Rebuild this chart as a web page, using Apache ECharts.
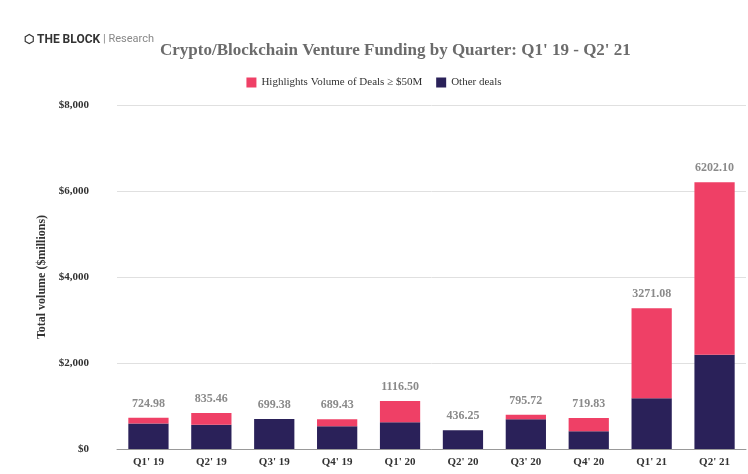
<!DOCTYPE html>
<html><head><meta charset="utf-8">
<script src="https://cdn.jsdelivr.net/npm/echarts@6/dist/echarts.min.js"></script>
<style>html,body{margin:0;padding:0;background:#fff}#c{width:748px;height:474px}</style>
</head><body><div id="c"></div>
<script>
const categories = ["Q1' 19","Q2' 19","Q3' 19","Q4' 19","Q1' 20","Q2' 20","Q3' 20","Q4' 20","Q1' 21","Q2' 21"];
const totals = [724.98,835.46,699.38,689.43,1116.50,436.25,795.72,719.83,3271.08,6202.10];
const otherDeals = [592,565,699.38,527,620,436.25,690,410,1178,2190];
const bigDeals = totals.map((t,i)=>+(t-otherDeals[i]).toFixed(2));
const yTicks = [0,2000,4000,6000,8000];
const serif = "'Liberation Serif','DejaVu Serif',serif";
const chart = echarts.init(document.getElementById('c'));
chart.setOption({
  animation:false,
  graphic:[
    {type:'text',left:24,top:34,style:{text:'⬡ THE BLOCK',font:'bold 12px Roboto',fill:'#333'}},
    {type:'text',left:103,top:34,style:{text:'| Research',font:'11px Roboto',fill:'#888'}}
  ],
  title:{text:'Crypto/Blockchain Venture Funding by Quarter: Q1\' 19 - Q2\' 21',left:155,top:37,
    textStyle:{fontFamily:serif,fontWeight:'bold',fontSize:17,color:'#6b6b6b'}},
  legend:{top:72,left:'center',itemWidth:10,itemHeight:10,icon:'rect',itemGap:14,
    data:['Highlights Volume of Deals ≥ $50M','Other deals'],
    textStyle:{fontFamily:serif,fontSize:11,color:'#333'}},
  grid:{left:117,right:2,top:105,bottom:25},
  xAxis:{type:'category',data:categories,axisTick:{show:false},
    axisLine:{lineStyle:{color:'#999'}},
    axisLabel:{fontFamily:serif,fontWeight:'bold',fontSize:11,color:'#333',margin:8}},
  yAxis:{type:'value',min:0,max:8000,interval:2000,
    name:'Total volume ($millions)',nameLocation:'middle',nameGap:68,
    nameTextStyle:{fontFamily:serif,fontWeight:'bold',fontSize:12,color:'#333'},
    axisLabel:{fontFamily:serif,fontWeight:'bold',fontSize:11,color:'#333',margin:28,
      formatter:v=>yTicks.includes(v)?'$'+v.toLocaleString('en-US'):''},
    splitLine:{lineStyle:{color:'#e0e0e0'}}},
  series:[
    {name:'Other deals',type:'bar',stack:'a',data:otherDeals,barWidth:'64%',itemStyle:{color:'#2a2159'}},
    {name:'Highlights Volume of Deals ≥ $50M',type:'bar',stack:'a',data:bigDeals,itemStyle:{color:'#ef4066'},
      label:{show:true,position:'top',distance:8,fontFamily:serif,fontWeight:'bold',fontSize:12,color:'#8a8a8a',
        formatter:p=>totals[p.dataIndex].toFixed(2)}}
  ]
});
</script></body></html>
